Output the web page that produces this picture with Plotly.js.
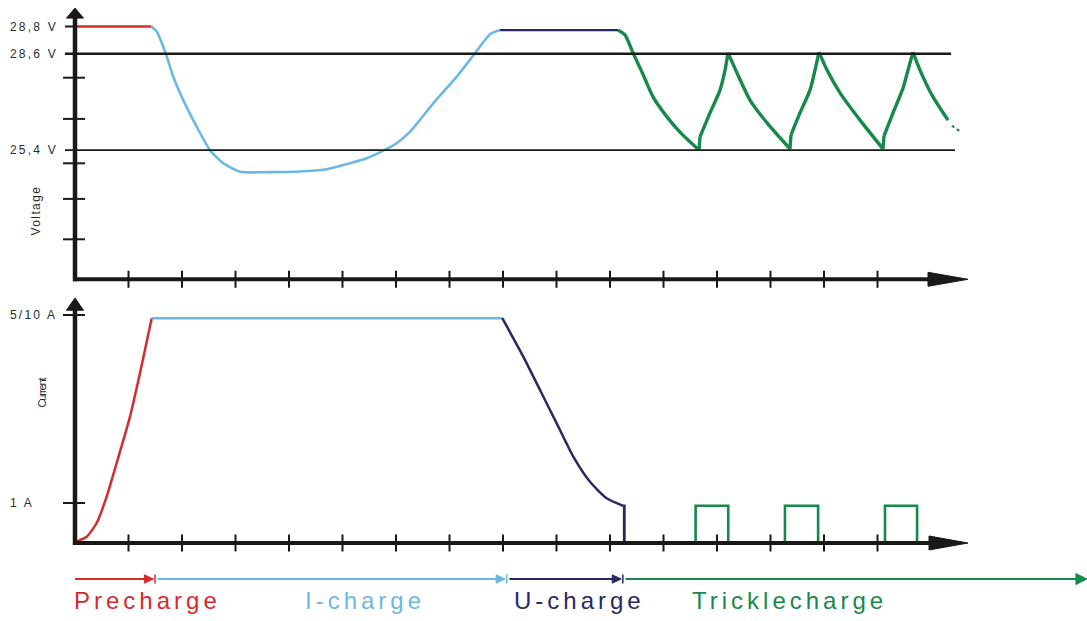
<!DOCTYPE html>
<html><head><meta charset="utf-8">
<script src="https://cdn.plot.ly/plotly-3.0.1.min.js"></script>
<style>html,body{margin:0;padding:0;background:#fff;overflow:hidden}#chart{width:1087px;height:621px}</style>
</head><body><div id="chart"></div><script>
// ---------------- data (x in time units, y in schematic levels) ----------------
const xTicks = [1,2,3,4,5,6,7,8,9,10,11,12,13,14,15];

const phaseNames  = ['Precharge','I-charge','U-charge','Tricklecharge'];
const phaseColors = ['#d52a2e','#6cb8e4','#2a2766','#17894a'];
const phaseBounds = [0, 1.495, 8.07, 10.24, 18.92];
const phaseLabelX = [-0.06, 4.26, 8.16, 11.49];

// Voltage
const vPreX = [0, 1.43];
const vPreY = [6.32, 6.32];
const vIX = [1.43,1.53,1.695,1.837,2.024,2.275,2.523,2.772,3.084,3.645,4.206,4.673,5.14,5.452,5.763,6.013,6.262,6.697,7.135,7.477,7.757,7.944];
const vIY = [6.32,6.19,5.65,5.065,4.48,3.815,3.23,2.9,2.69,2.68,2.695,2.745,2.9,3.025,3.215,3.4,3.69,4.4,5.065,5.65,6.125,6.23];
const vUX = [7.944, 10.15];
const vUY = [6.23, 6.23];
// trickle voltage: decay / jump / rise segments separated by null
const vTX = [10.15,10.28,10.43,10.598,10.804,11.065,11.308,11.664,null,
             11.664,11.682,null,
             11.682,11.869,12.056,12.15,12.206,null,
             12.206,12.374,12.617,12.935,13.364,null,
             13.364,13.383,null,
             13.383,13.551,13.738,13.832,13.907,null,
             13.907,14.056,14.299,14.673,15.103,null,
             15.103,15.121,null,
             15.121,15.29,15.477,15.57,15.664,null,
             15.664,15.794,16.037,16.318];
const vTY = [6.23,6.11,5.66,5.18,4.56,4.06,3.68,3.23,null,
             3.23,3.56,null,
             3.56,4.16,4.73,5.23,5.66,null,
             5.66,5.16,4.48,3.91,3.26,null,
             3.26,3.61,null,
             3.61,4.16,4.73,5.23,5.68,null,
             5.68,5.23,4.66,3.98,3.26,null,
             3.26,3.58,null,
             3.58,4.16,4.78,5.23,5.68,null,
             5.68,5.23,4.56,3.98];
const vTailX = [16.39, 16.56];
const vTailY = [3.84, 3.68];

const vTickLevels = [6.32, 5.64, 5.04, 4.01, 3.23, 2.90, 2.01, 1.00];
const vTickText   = ['28,8 V','28,6 V','','','25,4 V','','',''];

// Current
const iPreX = [0,0.019,0.218,0.405,0.592,0.779,1.028,1.215,1.434];
const iPreY = [0,0.03,0.158,0.5,1.158,2.0,3.158,4.25,5.62];
const iIX = [1.434, 7.987];
const iIY = [5.62, 5.62];
const iUX = [7.987,8.379,8.692,9.004,9.314,9.626,9.938,10.249];
const iUY = [5.62,4.66,3.825,2.99,2.16,1.53,1.12,0.93];
const iDropX = [10.249,10.267,10.267];
const iDropY = [0.93,0.93,0];
const pulseStart = [11.60, 13.27, 15.14];
const pulseEnd   = [12.21, 13.89, 15.74];
const pulseLevel = 0.93;

const iTickLevels = [5.70, 1.00];
const iTickText   = ['5/10 A','1 A'];

const axisTitles = ['Voltage','Current'];

// ---------------- geometry ----------------
const W = 1087, H = 621;
const PX = 53.5;   // px per x unit
const PY = 40;     // px per y unit
const X0 = 75;     // pixel of x = 0
const Y0top = 279.3, Y0bot = 543;
const ux = p => p / PX, uy = p => p / PY;
const AX = '#1b1918';

function line(yref, x0, y0, x1, y1, color, width, dash) {
  return {type:'line', xref:'x', yref:yref, x0:x0, y0:y0, x1:x1, y1:y1, layer:'above',
          line:{color:color, width:width, dash:dash||'solid'}};
}
function tri(yref, pts, color) {
  const d = 'M ' + pts.map(p => p[0] + ',' + p[1]).join(' L ') + ' Z';
  return {type:'path', xref:'x', yref:yref, path:d, fillcolor:color, layer:'above', line:{color:color, width:1}};
}

const shapes = [];
// axes with arrows
[['y', 6.53, 6.78, 15.944], ['y2', 5.82, 6.125, 15.963]].forEach(([yr, yBase, yTip, xBase]) => {
  shapes.push(line(yr, 0, -uy(2), 0, yBase + 0.02, AX, 4.5));
  shapes.push(tri(yr, [[-ux(8.5), yBase], [0, yTip], [ux(8.5), yBase]], AX));
  shapes.push(line(yr, -ux(2), 0, xBase + 0.02, 0, AX, 4));
  shapes.push(tri(yr, [[xBase, uy(7)], [ux(968 - X0), 0], [xBase, -uy(7)]], AX));
  xTicks.forEach(k => shapes.push(line(yr, k, -uy(8.5), k, uy(8.5), AX, 2)));
});
// voltage y ticks / reference lines
vTickLevels.forEach((lv, i) => {
  const t = vTickText[i];
  if (t === '28,8 V') shapes.push(line('y', -ux(10), lv, 0, lv, AX, 2));
  else if (t === '28,6 V') shapes.push(line('y', -ux(10), lv, ux(951 - X0), lv, AX, 2.6));
  else if (t === '25,4 V') shapes.push(line('y', -ux(10), lv, ux(955 - X0), lv, AX, 1.6));
  else shapes.push(line('y', -ux(12), lv, ux(10), lv, AX, 2));
});
iTickLevels.forEach(lv => shapes.push(line('y2', -ux(12), lv, ux(10), lv, AX, 2)));

// phase arrows under the charts
const arrowY = -uy(579 - Y0bot);
phaseNames.forEach((n, i) => {
  const c = phaseColors[i];
  const last = i === phaseNames.length - 1;
  const xs = i === 0 ? 0 : phaseBounds[i] + 0.05;
  const tip = last ? phaseBounds[i + 1] - 0.005 : phaseBounds[i + 1] - 0.03;
  const hl = last ? ux(11) : ux(9), hh = last ? uy(5.5) : uy(4.2);
  shapes.push(line('y2', xs, arrowY, tip - hl + 0.02, arrowY, c, 2));
  shapes.push(tri('y2', [[tip - hl, arrowY + hh], [tip, arrowY], [tip - hl, arrowY - hh]], c));
  if (!last) shapes.push(line('y2', phaseBounds[i + 1], arrowY - uy(4.5), phaseBounds[i + 1], arrowY + uy(4.5), c, 1.5));
});

// ---------------- traces ----------------
function tr(x, y, yaxis, color, width, shape, dash) {
  return {type:'scatter', mode:'lines', x:x, y:y, xaxis:'x', yaxis:yaxis, connectgaps:false,
    hoverinfo:'skip', showlegend:false,
    line:{color:color, width:width, shape:shape || 'linear', smoothing:0.6, dash:dash || 'solid'}};
}
const pX = [], pY = [];
pulseStart.forEach((s, i) => {
  pX.push(s, s, pulseEnd[i], pulseEnd[i], s, null);
  pY.push(0, pulseLevel, pulseLevel, 0, 0, null);
});
const data = [
  tr(vPreX, vPreY, 'y', phaseColors[0], 2.5),
  tr(vIX, vIY, 'y', phaseColors[1], 2.6, 'spline'),
  tr(vUX, vUY, 'y', phaseColors[2], 2.2),
  tr(vTX, vTY, 'y', phaseColors[3], 3.4, 'spline'),
  tr(vTailX, vTailY, 'y', phaseColors[3], 2, 'linear', 'dot'),
  tr(iPreX, iPreY, 'y2', phaseColors[0], 2.5, 'spline'),
  tr(iIX, iIY, 'y2', phaseColors[1], 2.5),
  tr(iUX, iUY, 'y2', phaseColors[2], 2.5, 'spline'),
  tr(iDropX, iDropY, 'y2', phaseColors[2], 2.8),
  tr(pX, pY, 'y2', phaseColors[3], 2.6)
];

// ---------------- text ----------------
const FONT = 'Liberation Sans, Arial, sans-serif';
const sp = (t, ls) => '<span style="letter-spacing:' + ls + 'px">' + t + '</span>';
const annotations = [];
vTickLevels.forEach((lv, i) => {
  if (!vTickText[i]) return;
  annotations.push({xref:'paper', yref:'y', x:8 / W, y:lv, xanchor:'left', yanchor:'middle', showarrow:false,
    text:sp(vTickText[i], 2.2), font:{family:FONT, size:12, color:'#2b2b2b'}});
});
iTickLevels.forEach((lv, i) => {
  annotations.push({xref:'paper', yref:'y2', x:8 / W, y:lv, xanchor:'left', yanchor:'middle', showarrow:false,
    text:sp(iTickText[i], 2.2), font:{family:FONT, size:12, color:'#2b2b2b'}});
});
annotations.push({xref:'paper', yref:'y', x:35.5 / W, y:uy(Y0top - 211), textangle:-90, showarrow:false,
  xanchor:'center', yanchor:'middle', text:sp(axisTitles[0], 1.4), font:{family:FONT, size:12, color:'#2b2b2b'}});
annotations.push({xref:'paper', yref:'y2', x:41.5 / W, y:uy(Y0bot - 393), textangle:-90, showarrow:false,
  xanchor:'center', yanchor:'middle', text:sp(axisTitles[1], -1.1), font:{family:FONT, size:11, color:'#2b2b2b'}});
phaseNames.forEach((n, i) => {
  annotations.push({xref:'x', yref:'y2', x:phaseLabelX[i], y:-uy(600 - Y0bot), xanchor:'left', yanchor:'middle',
    showarrow:false, text:sp(n, 4.0), font:{family:FONT, size:24, color:phaseColors[i]}});
});

const hidden = {visible:true, showgrid:false, zeroline:false, showline:false, showticklabels:false, ticks:'', fixedrange:true};
const layout = {
  width:W, height:H, margin:{l:0, r:0, t:0, b:0, pad:0},
  paper_bgcolor:'#ffffff', plot_bgcolor:'#ffffff', showlegend:false,
  xaxis:Object.assign({}, hidden, {domain:[0,1], range:[-X0 / PX, (W - X0) / PX], anchor:'y2'}),
  yaxis:Object.assign({}, hidden, {domain:[1 - 295 / H, 1], range:[(Y0top - 295) / PY, Y0top / PY], anchor:'x'}),
  yaxis2:Object.assign({}, hidden, {domain:[0, 1 - 296 / H], range:[-(H - Y0bot) / PY, (Y0bot - 296) / PY], anchor:'x'}),
  shapes:shapes, annotations:annotations
};
Plotly.newPlot('chart', data, layout, {staticPlot:true, displayModeBar:false});
</script></body></html>
